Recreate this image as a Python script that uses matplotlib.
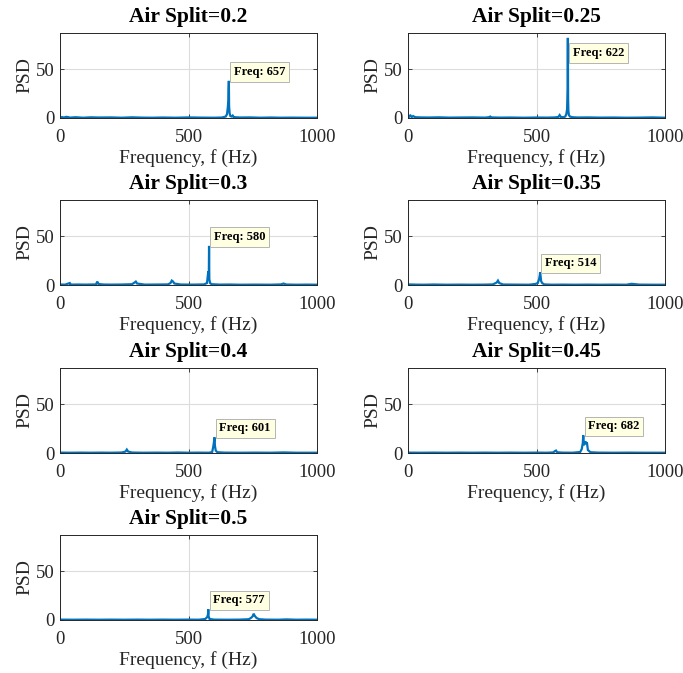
import matplotlib
matplotlib.use("Agg")
import matplotlib.pyplot as plt
import numpy as np

plt.rcParams['font.family'] = ['Liberation Serif', 'DejaVu Serif']

# ---------------- data ----------------
air_splits = ['0.2', '0.25', '0.3', '0.35', '0.4', '0.45', '0.5']

f1 = [0, 3, 8, 15, 25, 40, 60, 90, 120, 150, 200, 240, 280, 320, 360, 400, 450, 500, 550, 600, 630, 645, 650, 653, 655, 656, 657, 658, 660, 663, 668, 672, 676, 680, 700, 740, 780, 820, 860, 900, 950, 1000]
p1 = [1.0, 0.4, 0.9, 0.5, 1.2, 0.4, 0.8, 0.3, 0.7, 0.5, 0.6, 0.3, 0.7, 0.4, 0.3, 0.5, 0.3, 0.6, 0.4, 0.3, 0.5, 1.5, 4.0, 11.0, 18.0, 30.0, 38.0, 12.0, 5.0, 2.0, 1.5, 2.5, 1.0, 0.8, 0.5, 0.6, 0.3, 0.5, 0.3, 0.4, 0.3, 0.3]

f2 = [0, 3, 6, 10, 15, 20, 25, 30, 50, 80, 120, 160, 200, 250, 300, 315, 320, 325, 360, 400, 450, 500, 540, 570, 585, 590, 595, 605, 612, 616, 619, 621, 622, 623, 624, 626, 630, 640, 660, 700, 750, 800, 850, 900, 950, 1000]
p2 = [3.5, 2.5, 1.5, 2.5, 1.0, 2.0, 1.2, 0.8, 0.6, 0.5, 0.7, 0.4, 0.5, 0.6, 0.4, 0.8, 1.5, 0.6, 0.4, 0.5, 0.3, 0.5, 0.4, 0.6, 1.0, 3.0, 1.0, 0.8, 1.5, 4.0, 9.0, 30.0, 82.0, 20.0, 8.0, 3.0, 1.5, 0.8, 0.5, 0.6, 0.4, 0.5, 0.3, 0.4, 0.6, 0.3]

f3 = [0, 20, 38, 40, 42, 70, 100, 140, 145, 150, 170, 200, 240, 280, 290, 295, 300, 330, 380, 420, 430, 435, 440, 445, 470, 520, 560, 572, 577, 579, 580, 581, 584, 590, 620, 660, 700, 760, 820, 860, 870, 880, 920, 960, 1000]
p3 = [0.5, 0.4, 2.0, 1.0, 0.4, 0.5, 0.4, 0.6, 3.5, 1.0, 0.5, 0.4, 0.5, 0.8, 2.5, 3.5, 1.5, 0.4, 0.5, 0.6, 2.0, 4.5, 3.5, 1.5, 0.5, 0.4, 0.6, 2.0, 14.0, 8.0, 40.0, 6.0, 2.0, 0.8, 0.4, 0.5, 0.3, 0.4, 0.3, 0.6, 1.5, 0.5, 0.3, 0.4, 0.3]

f4 = [0, 30, 60, 100, 150, 200, 250, 300, 330, 345, 350, 355, 370, 420, 470, 495, 505, 510, 513, 514, 516, 518, 522, 530, 560, 600, 650, 700, 750, 800, 850, 870, 900, 950, 1000]
p4 = [0.6, 0.4, 0.3, 0.5, 0.3, 0.4, 0.3, 0.4, 0.6, 2.5, 4.5, 2.0, 0.5, 0.4, 0.3, 1.0, 2.0, 6.0, 10.0, 13.0, 9.0, 4.0, 2.0, 0.6, 0.3, 0.4, 0.3, 0.4, 0.3, 0.4, 0.3, 1.2, 0.4, 0.3, 0.3]

f5 = [0, 40, 80, 120, 160, 200, 240, 255, 260, 265, 280, 320, 380, 420, 460, 500, 540, 580, 592, 596, 599, 601, 603, 606, 612, 640, 700, 760, 820, 870, 920, 1000]
p5 = [0.4, 0.3, 0.4, 0.3, 0.4, 0.3, 0.5, 1.5, 3.5, 1.5, 0.5, 0.3, 0.4, 0.3, 0.5, 0.3, 0.4, 0.3, 1.0, 6.0, 11.0, 16.0, 7.0, 2.5, 0.8, 0.4, 0.3, 0.4, 0.3, 0.6, 0.3, 0.3]

f6 = [0, 50, 100, 150, 200, 250, 300, 350, 400, 450, 500, 540, 565, 572, 576, 580, 600, 640, 670, 676, 680, 682, 684, 687, 690, 693, 696, 700, 710, 740, 800, 860, 920, 1000]
p6 = [0.4, 0.3, 0.4, 0.3, 0.4, 0.3, 0.4, 0.3, 0.4, 0.3, 0.4, 0.3, 0.6, 2.0, 2.5, 0.8, 0.4, 0.3, 1.0, 4.0, 10.0, 18.0, 8.0, 10.0, 12.0, 9.0, 11.0, 3.0, 0.8, 0.4, 0.3, 0.4, 0.3, 0.3]

f7 = [0, 50, 100, 150, 200, 250, 300, 350, 400, 450, 500, 540, 565, 573, 576, 577, 578, 582, 600, 650, 700, 735, 745, 750, 754, 756, 760, 765, 775, 800, 850, 880, 920, 960, 1000]
p7 = [0.4, 0.3, 0.4, 0.3, 0.4, 0.3, 0.4, 0.3, 0.4, 0.3, 0.4, 0.3, 1.0, 3.0, 6.0, 11.0, 4.0, 1.0, 0.4, 0.3, 0.4, 0.8, 2.5, 4.0, 6.5, 5.0, 3.5, 2.0, 0.8, 0.4, 0.3, 0.6, 0.3, 0.4, 0.3]

freqs = [f1, f2, f3, f4, f5, f6, f7]
psds = [p1, p2, p3, p4, p5, p6, p7]
tip_below = [False, True, False, False, False, False, False]

x_ticks = [0, 500, 1000]
y_ticks = [0, 50]

# ---------------- layout ----------------
W, H = 683, 673
fig = plt.figure(figsize=(W / 100, H / 100), dpi=100)

col_left = [60, 408]
row_top = [33, 200, 368, 535]
ax_w, ax_h = 257, 85

line_color = '#0072BD'
dark = '#262626'

for i, (split, fx, py) in enumerate(zip(air_splits, freqs, psds)):
    r, c = divmod(i, 2)
    left = col_left[c] / W
    bottom = 1 - (row_top[r] + ax_h) / H
    ax = fig.add_axes([left, bottom, ax_w / W, ax_h / H])
    ax.plot(fx, py, color=line_color, linewidth=1.6, solid_joinstyle='miter')
    ax.set_xlim(0, 1000)
    ax.set_ylim(0, 87)
    ax.set_xticks(x_ticks)
    ax.set_yticks(y_ticks)
    ax.grid(True, color='#dcdcdc', linewidth=0.8)
    ax.set_axisbelow(True)
    ax.tick_params(direction='in', length=3, width=0.6, colors=dark,
                   labelsize=13.5, top=True, right=True)
    ax.tick_params(axis='x', pad=8)
    ax.tick_params(axis='y', pad=4)
    for s in ax.spines.values():
        s.set_color(dark)
        s.set_linewidth(0.7)
    ax.set_title(f'Air Split={split}', fontsize=15.5, fontweight='bold', pad=8)
    ax.set_xlabel('Frequency, f (Hz)', fontsize=14, color=dark, labelpad=2)
    ax.set_ylabel('PSD', fontsize=14, color=dark, labelpad=2)

    k = int(np.argmax(py))
    fk, pk = fx[k], py[k]
    if tip_below[i]:
        xyt, va = (5, -9), 'top'
    else:
        xyt, va = (5, 3), 'bottom'
    ax.annotate(f'Freq: {fk}', xy=(fk, pk), xytext=xyt,
                textcoords='offset pixels', ha='left', va=va,
                fontsize=9, fontweight='bold', color='black',
                bbox=dict(boxstyle='square,pad=0.3', fc='#FFFFE1',
                          ec='#b4b4b4', lw=0.7), zorder=6)

fig.savefig('out.png', dpi=100)
